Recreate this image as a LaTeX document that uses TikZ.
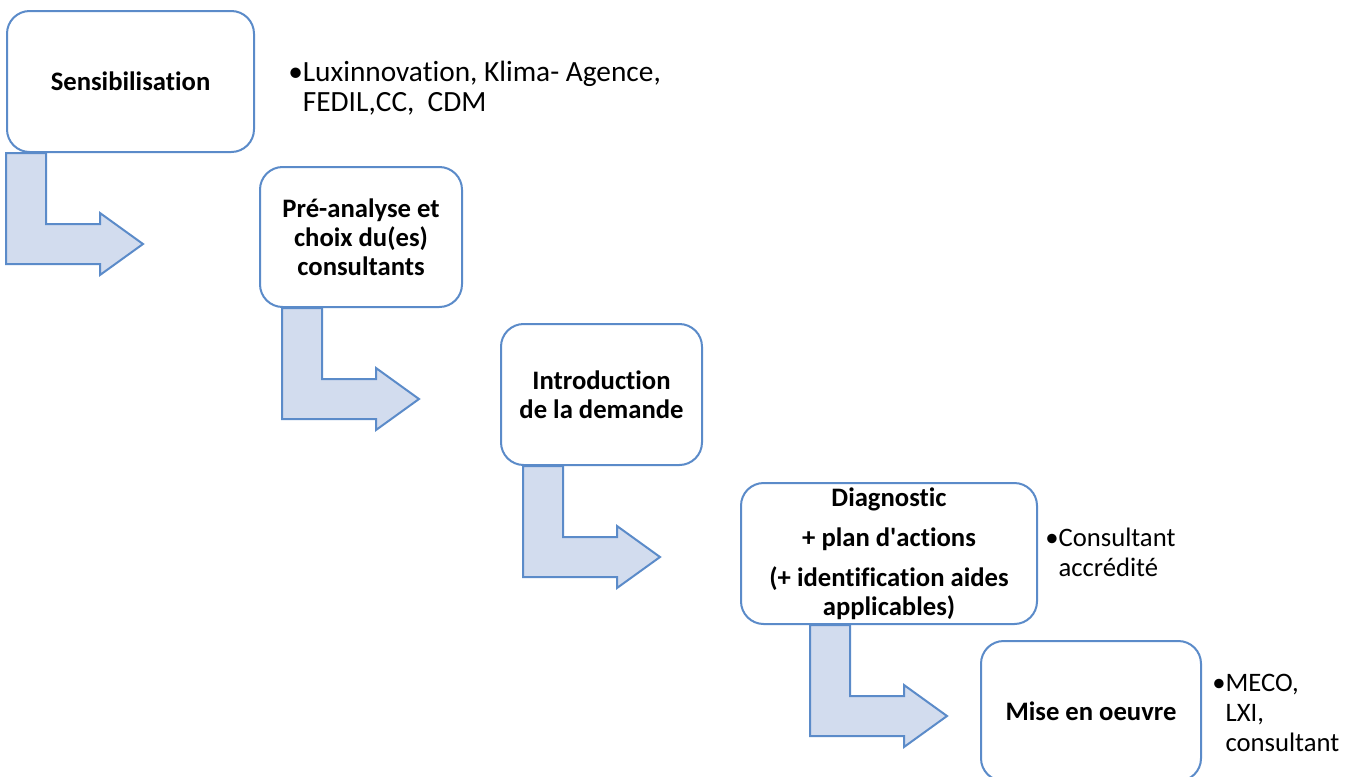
\documentclass[tikz,border=0pt]{standalone}
\usepackage{fontspec}
\setmainfont{Carlito}[Ligatures=CommonOff]
\usetikzlibrary{calc, backgrounds, positioning}
\definecolor{stepline}{HTML}{5B8BC9}
\definecolor{stepfill}{HTML}{D2DCEE}
\def\px{0.75pt}
\tikzset{
    stepbox/.style={draw=stepline, line width=1.5pt, fill=white, rounded corners=17pt,
        align=center, inner sep=0pt, font=\fontsize{20}{21.75}\selectfont\bfseries},
    note/.style={anchor=west, align=left, inner sep=0pt, font=\fontsize{20}{22.5}\selectfont},
    bentarrow/.style={draw=stepline, line width=1.5pt, fill=stepfill, line join=miter}
}

\begin{document}
\begin{tikzpicture}[x=\px, y=-\px]
    \useasboundingbox (0,0) rectangle (1355,776);
    \clip (0,0) rectangle (1355,776);
    % steps
    \node[stepbox, minimum width=247*\px, minimum height=141*\px] (s1) at (130.5,81.5) {Sensibilisation};
    \node[stepbox, minimum width=202*\px, minimum height=140*\px] (s2) at (361,237) {Pré-analyse et\\choix du(es)\\consultants};
    \node[stepbox, minimum width=201*\px, minimum height=141*\px] (s3) at (601.5,394.5) {Introduction\\de la demande};
    \node[stepbox, minimum width=296*\px, minimum height=141*\px] (s4) at (889,553.5) {Diagnostic\\[8.25pt]+ plan d\textquotesingle actions\\[8.25pt](+ identification aides\\applicables)};
    \node[stepbox, minimum width=220*\px, minimum height=140*\px] (s5) at (1091,711) {Mise en oeuvre};
    % who does it
    \node[note, font=\fontsize{22}{22.5}\selectfont] (n1) at (288,88) {•Luxinnovation, Klima- Agence,\\\hphantom{•}FEDIL,CC,~~CDM};
    \node[note] (n4) at (1045,552) {•Consultant\\\hphantom{•}accrédité};
    \node[note] (n5) at (1212,713) {•MECO,\\\hphantom{•}LXI,\\\hphantom{•}consultant};
    % bent arrows
    \begin{scope}[on background layer]
    \foreach \b/\dx in {s1/0, s2/23, s3/23, s4/70}{
        \draw[bentarrow] ($(\b.south west)+(\dx,0)$) -- ++(40,0) -- ++(0,71) -- ++(54,0) -- ++(0,-11)
            -- ++(43,31) -- ++(-43,31) -- ++(0,-11) -- ++(-94,0) -- cycle;
    }
    \end{scope}
\end{tikzpicture}
\end{document}
